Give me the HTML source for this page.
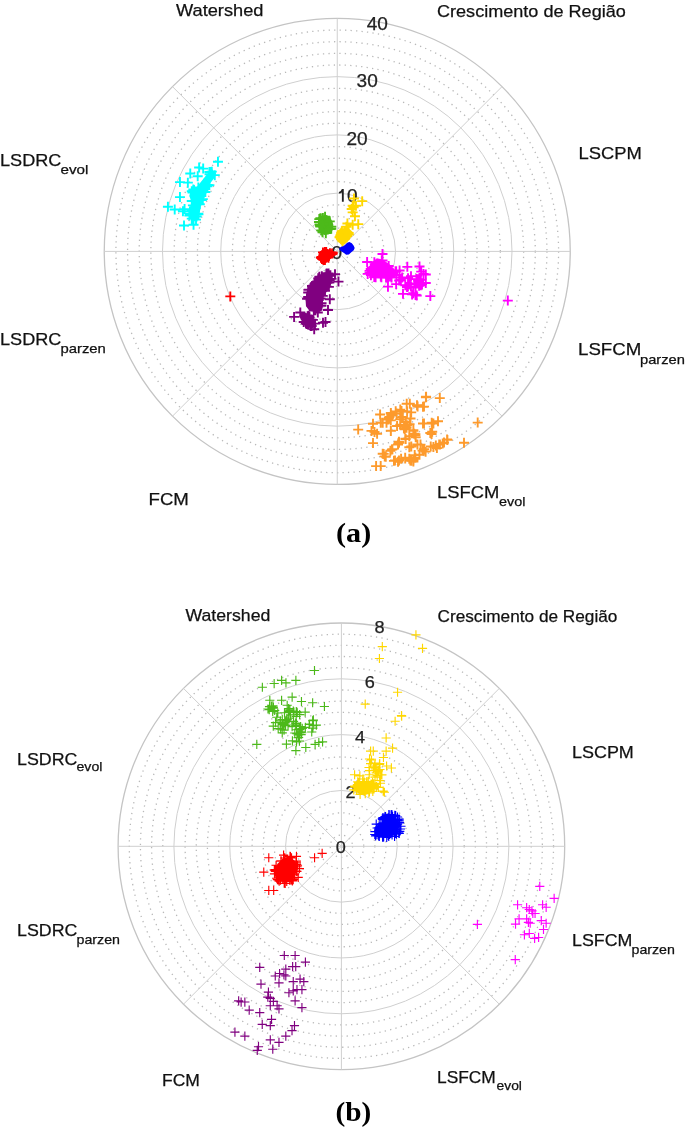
<!DOCTYPE html>
<html><head><meta charset="utf-8"><style>
html,body{margin:0;padding:0;background:#fff;width:685px;height:1127px;overflow:hidden}
svg{display:block;will-change:transform}
text{font-family:"Liberation Sans",sans-serif;fill:#111;stroke:#111;stroke-width:0.25px}
.tk{text-anchor:middle;fill:#222;stroke:#222}
.mj{fill:none;stroke:#cfcfcf;stroke-width:1}
.mn{fill:none;stroke:#b9b9b9;stroke-width:1.3;stroke-dasharray:1.3 4.2}
.ol{fill:none;stroke:#c4c4c4;stroke-width:1.3}
.cap{font-family:"Liberation Serif",serif;font-weight:bold;fill:#000;stroke:none}
</style></head><body>
<svg width="685" height="1127" viewBox="0 0 685 1127">
<g><circle cx="337.25" cy="251.4" r="11.65" class="mn"/>
<circle cx="337.25" cy="251.4" r="23.3" class="mn"/>
<circle cx="337.25" cy="251.4" r="34.95" class="mn"/>
<circle cx="337.25" cy="251.4" r="46.6" class="mn"/>
<circle cx="337.25" cy="251.4" r="69.9" class="mn"/>
<circle cx="337.25" cy="251.4" r="81.55" class="mn"/>
<circle cx="337.25" cy="251.4" r="93.2" class="mn"/>
<circle cx="337.25" cy="251.4" r="104.85" class="mn"/>
<circle cx="337.25" cy="251.4" r="128.15" class="mn"/>
<circle cx="337.25" cy="251.4" r="139.8" class="mn"/>
<circle cx="337.25" cy="251.4" r="151.45" class="mn"/>
<circle cx="337.25" cy="251.4" r="163.1" class="mn"/>
<circle cx="337.25" cy="251.4" r="186.4" class="mn"/>
<circle cx="337.25" cy="251.4" r="198.05" class="mn"/>
<circle cx="337.25" cy="251.4" r="209.7" class="mn"/>
<circle cx="337.25" cy="251.4" r="221.35" class="mn"/>
<circle cx="337.25" cy="251.4" r="58.25" class="mj"/>
<circle cx="337.25" cy="251.4" r="116.5" class="mj"/>
<circle cx="337.25" cy="251.4" r="174.75" class="mj"/>
<circle cx="337.25" cy="251.4" r="233" class="ol"/>
<line x1="337.25" y1="251.4" x2="570.25" y2="251.4" class="mj"/>
<line x1="337.25" y1="251.4" x2="502.01" y2="86.64" class="mj"/>
<line x1="337.25" y1="251.4" x2="337.25" y2="18.4" class="mj"/>
<line x1="337.25" y1="251.4" x2="172.49" y2="86.64" class="mj"/>
<line x1="337.25" y1="251.4" x2="104.25" y2="251.4" class="mj"/>
<line x1="337.25" y1="251.4" x2="172.49" y2="416.16" class="mj"/>
<line x1="337.25" y1="251.4" x2="337.25" y2="484.4" class="mj"/>
<line x1="337.25" y1="251.4" x2="502.01" y2="416.16" class="mj"/></g>
<g><circle cx="341.4" cy="846.3" r="11.17" class="mn"/>
<circle cx="341.4" cy="846.3" r="22.33" class="mn"/>
<circle cx="341.4" cy="846.3" r="33.5" class="mn"/>
<circle cx="341.4" cy="846.3" r="44.66" class="mn"/>
<circle cx="341.4" cy="846.3" r="66.99" class="mn"/>
<circle cx="341.4" cy="846.3" r="78.16" class="mn"/>
<circle cx="341.4" cy="846.3" r="89.32" class="mn"/>
<circle cx="341.4" cy="846.3" r="100.49" class="mn"/>
<circle cx="341.4" cy="846.3" r="122.82" class="mn"/>
<circle cx="341.4" cy="846.3" r="133.98" class="mn"/>
<circle cx="341.4" cy="846.3" r="145.15" class="mn"/>
<circle cx="341.4" cy="846.3" r="156.31" class="mn"/>
<circle cx="341.4" cy="846.3" r="178.64" class="mn"/>
<circle cx="341.4" cy="846.3" r="189.81" class="mn"/>
<circle cx="341.4" cy="846.3" r="200.97" class="mn"/>
<circle cx="341.4" cy="846.3" r="212.14" class="mn"/>
<circle cx="341.4" cy="846.3" r="55.83" class="mj"/>
<circle cx="341.4" cy="846.3" r="111.65" class="mj"/>
<circle cx="341.4" cy="846.3" r="167.48" class="mj"/>
<circle cx="341.4" cy="846.3" r="223.3" class="ol"/>
<line x1="341.4" y1="846.3" x2="564.7" y2="846.3" class="mj"/>
<line x1="341.4" y1="846.3" x2="499.3" y2="688.4" class="mj"/>
<line x1="341.4" y1="846.3" x2="341.4" y2="623" class="mj"/>
<line x1="341.4" y1="846.3" x2="183.5" y2="688.4" class="mj"/>
<line x1="341.4" y1="846.3" x2="118.1" y2="846.3" class="mj"/>
<line x1="341.4" y1="846.3" x2="183.5" y2="1004.2" class="mj"/>
<line x1="341.4" y1="846.3" x2="341.4" y2="1069.6" class="mj"/>
<line x1="341.4" y1="846.3" x2="499.3" y2="1004.2" class="mj"/></g>
<g><text x="336.85" y="259.3" class="tk" textLength="10.6" lengthAdjust="spacingAndGlyphs" style="font-size:17.6px">0</text>
<text x="352.3" y="201.93" class="tk" textLength="10.6" lengthAdjust="spacingAndGlyphs" style="font-size:17.6px">0</text>
<path d="M341.9 189.1H343.75V201.8H341.9V192.4Q340.6 193.4 338.9 193.5V191.9Q341.1 191.5 341.9 189.1Z" fill="#222"/>
<text x="357.08" y="144.57" class="tk" textLength="21.2" lengthAdjust="spacingAndGlyphs" style="font-size:17.6px">20</text>
<text x="367.2" y="87.2" class="tk" textLength="21.2" lengthAdjust="spacingAndGlyphs" style="font-size:17.6px">30</text>
<text x="377.31" y="29.84" class="tk" textLength="21.2" lengthAdjust="spacingAndGlyphs" style="font-size:17.6px">40</text></g>
<g><text x="340.8" y="853.3" class="tk" textLength="10.1" lengthAdjust="spacingAndGlyphs" style="font-size:16.8px">0</text>
<text x="350.49" y="798.32" class="tk" textLength="10.1" lengthAdjust="spacingAndGlyphs" style="font-size:16.8px">2</text>
<text x="360.19" y="743.35" class="tk" textLength="10.1" lengthAdjust="spacingAndGlyphs" style="font-size:16.8px">4</text>
<text x="369.88" y="688.37" class="tk" textLength="10.1" lengthAdjust="spacingAndGlyphs" style="font-size:16.8px">6</text>
<text x="379.58" y="633.39" class="tk" textLength="10.1" lengthAdjust="spacingAndGlyphs" style="font-size:16.8px">8</text></g>
<g><path d="M339.32 248.14L339.49 249.85L341.17 251.26L343.96 252.94L343.99 252.97L346.1 254.69L348.87 254.51L351.3 252.28L351.31 252.27L353.75 250.32L354.68 248L353.74 245.65L351.81 243.24L349.47 242.12L347.16 242.77L344.71 245.21L344.69 245.23L344.67 245.25L344.64 245.26L344.62 245.28L341.15 246.76L339.32 248.14Z" fill="#0000ff"/>
<path d="" stroke="#0000ff" stroke-width="1.9" fill="none"/>
<path d="M375.4 826.23L374.36 830.39L375.37 833.4L378.57 835.54L386.36 835.54L394.41 834.81L398.19 832.65L398.78 828.48L398.87 828.08L400.13 823.68L397.81 819.62L393.97 816.42L388.4 815.18L384.84 816.71L382.88 821.93L382.76 822.2L382.62 822.46L382.45 822.71L382.26 822.93L382.04 823.14L381.81 823.32L381.56 823.48L381.29 823.62L375.4 826.23Z" fill="#0000ff"/>
<path d="M390.22 815.37h9.2M394.82 810.77v9.2M378.98 819.24h9.2M383.58 814.64v9.2M378.52 837.08h9.2M383.12 832.48v9.2M377.98 837.17h9.2M382.58 832.57v9.2M372.41 834.69h9.2M377.01 830.09v9.2M377.94 836.21h9.2M382.54 831.61v9.2M394.67 833.48h9.2M399.27 828.88v9.2M393.18 819.75h9.2M397.78 815.15v9.2M382.12 837.48h9.2M386.72 832.88v9.2M377.68 818.89h9.2M382.28 814.29v9.2M380.26 816.73h9.2M384.86 812.13v9.2M384.45 815.39h9.2M389.05 810.79v9.2M380.97 816.8h9.2M385.57 812.2v9.2M378.45 817.61h9.2M383.05 813.01v9.2M384.24 814.48h9.2M388.84 809.88v9.2M394.14 832.91h9.2M398.74 828.31v9.2M394.46 833.4h9.2M399.06 828.8v9.2M370.16 834.46h9.2M374.76 829.86v9.2M380.78 816.53h9.2M385.38 811.93v9.2M387.92 816.57h9.2M392.52 811.97v9.2M384.64 814.74h9.2M389.24 810.14v9.2M391.06 815.67h9.2M395.66 811.07v9.2M374.73 836.43h9.2M379.33 831.83v9.2M396.34 826.26h9.2M400.94 821.66v9.2M395.15 831.35h9.2M399.75 826.75v9.2M391.89 834.18h9.2M396.49 829.58v9.2M395.8 828.99h9.2M400.4 824.39v9.2M379.06 836.95h9.2M383.66 832.35v9.2M389.98 836.31h9.2M394.58 831.71v9.2M392.91 817.01h9.2M397.51 812.41v9.2M391.29 833.52h9.2M395.89 828.92v9.2M375.27 824.03h9.2M379.87 819.43v9.2M370.99 835.83h9.2M375.59 831.23v9.2M379.42 818.94h9.2M384.02 814.34v9.2M374.02 835.94h9.2M378.62 831.34v9.2M378.12 819.61h9.2M382.72 815.01v9.2M380.4 816.88h9.2M385 812.28v9.2M378.28 817.7h9.2M382.88 813.1v9.2M387.48 814.91h9.2M392.08 810.31v9.2M371.63 824.05h9.2M376.23 819.45v9.2M386.51 815.28h9.2M391.11 810.68v9.2M394.59 819.08h9.2M399.19 814.48v9.2M394.57 820.9h9.2M399.17 816.3v9.2M386.62 814.68h9.2M391.22 810.08v9.2M384.15 836.47h9.2M388.75 831.87v9.2M385.02 823.81h9.2M389.62 819.21v9.2M383.42 817.83h9.2M388.02 813.23v9.2M375.46 824.45h9.2M380.06 819.85v9.2M388.05 823.76h9.2M392.65 819.16v9.2M382.97 830.13h9.2M387.57 825.53v9.2M389.94 827.18h9.2M394.54 822.58v9.2M386.71 827.82h9.2M391.31 823.22v9.2M394.77 822.57h9.2M399.37 817.97v9.2M389.34 822.69h9.2M393.94 818.09v9.2M384.5 828.63h9.2M389.1 824.03v9.2M381.98 829.8h9.2M386.58 825.2v9.2M384.98 824.29h9.2M389.58 819.69v9.2M386.31 818.89h9.2M390.91 814.29v9.2M390.78 819.16h9.2M395.38 814.56v9.2M384.52 831.89h9.2M389.12 827.29v9.2M378.29 822.71h9.2M382.89 818.11v9.2M389.8 826.36h9.2M394.4 821.76v9.2M389.96 829.58h9.2M394.56 824.98v9.2M391.11 820.03h9.2M395.71 815.43v9.2M383.82 833.89h9.2M388.42 829.29v9.2M385.03 834.43h9.2M389.63 829.83v9.2M374.07 835.03h9.2M378.67 830.43v9.2M370.37 831.66h9.2M374.97 827.06v9.2M387.47 835.01h9.2M392.07 830.41v9.2M383.64 835.3h9.2M388.24 830.7v9.2M389.06 822.23h9.2M393.66 817.63v9.2M394.87 822.86h9.2M399.47 818.26v9.2M381.77 819.19h9.2M386.37 814.59v9.2M383.39 818.64h9.2M387.99 814.04v9.2M383.77 831.73h9.2M388.37 827.13v9.2M392.97 824.24h9.2M397.57 819.64v9.2M378.59 833.35h9.2M383.19 828.75v9.2M390.73 833.41h9.2M395.33 828.81v9.2M387.48 823.58h9.2M392.08 818.98v9.2M387.62 832.08h9.2M392.22 827.48v9.2M386.24 820.04h9.2M390.84 815.44v9.2M377.37 823.52h9.2M381.97 818.92v9.2M389.64 826.52h9.2M394.24 821.92v9.2M383.93 832.01h9.2M388.53 827.41v9.2M372.56 828.03h9.2M377.16 823.43v9.2" stroke="#0000ff" stroke-width="1.15" fill="none"/>
<path d="M319 217.05L318.4 218.65L317.97 222.09L318.18 226.41L319.47 230.71L321.58 233.66L324.5 234.91L328.3 234.49L331.23 232.81L332.92 229.44L333.35 224.74L332.06 220.89L329.92 217.04L326.58 214.95L321.91 215.8L319 217.05Z" fill="#4cb91a"/>
<path d="M317.9 218.09h10M322.9 213.09v10M313.98 221.98h10M318.98 216.98v10M324.75 221.34h10M329.75 216.34v10M317.46 231.5h10M322.46 226.5v10M326.3 226.6h10M331.3 221.6v10M314.97 225.48h10M319.97 220.48v10M320.82 233.17h10M325.82 228.17v10M315.82 218.51h10M320.82 213.51v10M325.39 229.09h10M330.39 224.09v10M316.21 230.37h10M321.21 225.37v10M314.31 219.08h10M319.31 214.08v10M317.58 232.23h10M322.58 227.23v10M320.04 216.76h10M325.04 211.76v10M326.24 228.71h10M331.24 223.71v10M314.63 219.1h10M319.63 214.1v10M314.51 224.54h10M319.51 219.54v10M315.4 218.32h10M320.4 213.32v10M315.26 226.46h10M320.26 221.46v10" stroke="#4cb91a" stroke-width="1.9" fill="none"/>
<path d="M309.89 670.51h9.2M314.49 665.91v9.2M257.77 687.26h9.2M262.37 682.66v9.2M269.56 683.54h9.2M274.16 678.94v9.2M277.01 680.44h9.2M281.61 675.84v9.2M281.35 682.92h9.2M285.95 678.32v9.2M291.28 680.44h9.2M295.88 675.84v9.2M265.22 700.29h9.2M269.82 695.69v9.2M277.01 700.29h9.2M281.61 695.69v9.2M287.55 697.19h9.2M292.15 692.59v9.2M296.86 701.53h9.2M301.46 696.93v9.2M308.03 702.77h9.2M312.63 698.17v9.2M319.82 706.5h9.2M324.42 701.9v9.2M282.59 705.26h9.2M287.19 700.66v9.2M268.32 705.88h9.2M272.92 701.28v9.2M263.36 708.98h9.2M267.96 704.38v9.2M252.19 744.34h9.2M256.79 739.74v9.2M301.2 747.45h9.2M305.8 742.85v9.2M291.28 750.55h9.2M295.88 745.95v9.2M310.51 744.34h9.2M315.11 739.74v9.2M314.23 742.48h9.2M318.83 737.88v9.2M317.95 741.86h9.2M322.55 737.26v9.2M300.58 712.08h9.2M305.18 707.48v9.2M311.75 725.11h9.2M316.35 720.51v9.2M308.03 720.77h9.2M312.63 716.17v9.2M291.27 725.38h9.2M295.87 720.78v9.2M291.58 716.48h9.2M296.18 711.88v9.2M295.05 714.65h9.2M299.65 710.05v9.2M288.94 721.34h9.2M293.54 716.74v9.2M282.55 719.58h9.2M287.15 714.98v9.2M296.03 726.49h9.2M300.63 721.89v9.2M296.53 734.68h9.2M301.13 730.08v9.2M281.83 744.12h9.2M286.43 739.52v9.2M279.45 730.17h9.2M284.05 725.57v9.2M291.88 741.96h9.2M296.48 737.36v9.2M272.19 717.21h9.2M276.79 712.61v9.2M287.83 740.92h9.2M292.43 736.32v9.2M295.25 729.56h9.2M299.85 724.96v9.2M291.08 723.19h9.2M295.68 718.59v9.2M292.65 712.76h9.2M297.25 708.16v9.2M308.57 725.55h9.2M313.17 720.95v9.2M284.04 718.05h9.2M288.64 713.45v9.2M277.63 732.9h9.2M282.23 728.3v9.2M273.21 713.02h9.2M277.81 708.42v9.2M285.95 714.84h9.2M290.55 710.24v9.2M294.83 741.04h9.2M299.43 736.44v9.2M300.75 727.42h9.2M305.35 722.82v9.2M280.98 725.61h9.2M285.58 721.01v9.2M280.25 721.01h9.2M284.85 716.41v9.2M268.67 726.14h9.2M273.27 721.54v9.2M291.8 723.85h9.2M296.4 719.25v9.2M276.1 729.23h9.2M280.7 724.63v9.2M287.5 726.68h9.2M292.1 722.08v9.2M283.44 725.04h9.2M288.04 720.44v9.2M291.89 729.76h9.2M296.49 725.16v9.2M268.82 707.29h9.2M273.42 702.69v9.2M264.63 709.57h9.2M269.23 704.97v9.2M268.39 708.13h9.2M272.99 703.53v9.2M268.08 711.38h9.2M272.68 706.78v9.2M270.07 710.48h9.2M274.67 705.88v9.2M266.89 706.05h9.2M271.49 701.45v9.2M264.94 706.59h9.2M269.54 701.99v9.2M277.54 723.47h9.2M282.14 718.87v9.2M273.59 728.59h9.2M278.19 723.99v9.2M270.91 722.61h9.2M275.51 718.01v9.2M278.59 724.61h9.2M283.19 720.01v9.2M277.71 719.46h9.2M282.31 714.86v9.2M281.53 720.39h9.2M286.13 715.79v9.2M275.62 722.58h9.2M280.22 717.98v9.2M275.75 720.94h9.2M280.35 716.34v9.2M280.55 722.79h9.2M285.15 718.19v9.2M283.86 711.39h9.2M288.46 706.79v9.2M288.69 711.06h9.2M293.29 706.46v9.2M284.05 708.61h9.2M288.65 704.01v9.2M289.32 712.03h9.2M293.92 707.43v9.2M285.29 710.08h9.2M289.89 705.48v9.2M279.89 712.76h9.2M284.49 708.16v9.2M284.49 712.42h9.2M289.09 707.82v9.2M291.7 711.67h9.2M296.3 707.07v9.2M290.18 732.98h9.2M294.78 728.38v9.2M297.65 728.35h9.2M302.25 723.75v9.2M296.21 731.77h9.2M300.81 727.17v9.2M297.09 732.7h9.2M301.69 728.1v9.2M293.64 734.95h9.2M298.24 730.35v9.2M292.36 733.57h9.2M296.96 728.97v9.2M293.48 737.77h9.2M298.08 733.17v9.2M294.93 728.75h9.2M299.53 724.15v9.2M295.01 734.25h9.2M299.61 729.65v9.2M293.98 737.5h9.2M298.58 732.9v9.2M304.63 724.45h9.2M309.23 719.85v9.2M308.52 720.7h9.2M313.12 716.1v9.2M307.15 732.02h9.2M311.75 727.42v9.2M304.81 724.01h9.2M309.41 719.41v9.2M308.78 719.95h9.2M313.38 715.35v9.2M308.24 728.06h9.2M312.84 723.46v9.2" stroke="#4cb91a" stroke-width="1.15" fill="none"/>
<path d="M318.97 252.86L318.01 256.3L318.97 259.75L321.96 263.13L324.74 263.68L327.21 262.16L330.19 259.19L330.22 259.16L333.32 256.76L333.33 256.75L333.35 256.74L337.7 254.32L337.7 251.76L333.96 251.3L333.94 251.29L333.91 251.29L331.41 250.49L331.38 250.47L327.81 248.89L324.85 248.41L321.98 249.85L318.97 252.86Z" fill="#ff0000"/>
<path d="M225.3 296.4h10M230.3 291.4v10M316.01 257.56h10M321.01 252.56v10M316.96 258.92h10M321.96 253.92v10M323.48 257.65h10M328.48 252.65v10M321.23 252.26h10M326.23 247.26v10M318.56 259.88h10M323.56 254.88v10M319.9 260.06h10M324.9 255.06v10M315.95 257.71h10M320.95 252.71v10M317.98 252.41h10M322.98 247.41v10M321.14 252.11h10M326.14 247.11v10M318.08 259.26h10M323.08 254.26v10M327.11 253.51h10M332.11 248.51v10M319.95 252.05h10M324.95 247.05v10M316.81 256.84h10M321.81 251.84v10M324.96 253.24h10M329.96 248.24v10" stroke="#ff0000" stroke-width="1.9" fill="none"/>
<path d="M277.58 863.67L274.78 868.15L275.34 873.73L278.71 880.47L285.36 882.68L292.04 880.46L295.42 874.83L297.68 868.03L295.45 861.32L289.9 856.88L283.27 857.99L277.58 863.67Z" fill="#ff0000"/>
<path d="M264.18 857.75h9.2M268.78 853.15v9.2M259.16 872.12h9.2M263.76 867.52v9.2M264.18 890.45h9.2M268.78 885.85v9.2M269.09 890.45h9.2M273.69 885.85v9.2M309.96 857.75h9.2M314.56 853.15v9.2M317.55 853.43h9.2M322.15 848.83v9.2M291.86 856.35h9.2M296.46 851.75v9.2M279.01 855.18h9.2M283.61 850.58v9.2M293.61 877.37h9.2M298.21 872.77v9.2M287.77 880.88h9.2M292.37 876.28v9.2M279.6 883.21h9.2M284.2 878.61v9.2M294.78 868.61h9.2M299.38 864.01v9.2M291.66 861.28h9.2M296.26 856.68v9.2M276.31 860.78h9.2M280.91 856.18v9.2M274.58 881.11h9.2M279.18 876.51v9.2M291.61 865.07h9.2M296.21 860.47v9.2M291.79 862.89h9.2M296.39 858.29v9.2M286.92 857.92h9.2M291.52 853.32v9.2M272.8 879.56h9.2M277.4 874.96v9.2M282.15 881.38h9.2M286.75 876.78v9.2M285.41 856.38h9.2M290.01 851.78v9.2M271.16 873.98h9.2M275.76 869.38v9.2M291.82 864.56h9.2M296.42 859.96v9.2M292.85 865.2h9.2M297.45 860.6v9.2M280.6 883.42h9.2M285.2 878.82v9.2M272.07 878.26h9.2M276.67 873.66v9.2M285.13 880.22h9.2M289.73 875.62v9.2M287.12 879.08h9.2M291.72 874.48v9.2M280.2 857.95h9.2M284.8 853.35v9.2M270.87 871.22h9.2M275.47 866.62v9.2M292.46 866.72h9.2M297.06 862.12v9.2M269.72 869.94h9.2M274.32 865.34v9.2M289.97 874.78h9.2M294.57 870.18v9.2M288.62 879.68h9.2M293.22 875.08v9.2M285.81 856.57h9.2M290.41 851.97v9.2M270.43 870.55h9.2M275.03 865.95v9.2M270.98 869.66h9.2M275.58 865.06v9.2M271.48 865.25h9.2M276.08 860.65v9.2M270.99 871.39h9.2M275.59 866.79v9.2M270.41 869.85h9.2M275.01 865.25v9.2M291.44 862.98h9.2M296.04 858.38v9.2M288.29 878.91h9.2M292.89 874.31v9.2M287.65 880.17h9.2M292.25 875.57v9.2M270.56 870h9.2M275.16 865.4v9.2M273.78 879.91h9.2M278.38 875.31v9.2M276.59 861.09h9.2M281.19 856.49v9.2M269.88 873.85h9.2M274.48 869.25v9.2M291.65 871.04h9.2M296.25 866.44v9.2M291.75 860.98h9.2M296.35 856.38v9.2M286.43 879.86h9.2M291.03 875.26v9.2M292.3 871.34h9.2M296.9 866.74v9.2M275.93 880.15h9.2M280.53 875.55v9.2M285.36 876.76h9.2M289.96 872.16v9.2M276.19 873.3h9.2M280.79 868.7v9.2M274.38 875.08h9.2M278.98 870.48v9.2M275.43 874.03h9.2M280.03 869.43v9.2M285.57 875.25h9.2M290.17 870.65v9.2M280.57 877.3h9.2M285.17 872.7v9.2M281.9 879.19h9.2M286.5 874.59v9.2M285.83 868.64h9.2M290.43 864.04v9.2M278.15 879.09h9.2M282.75 874.49v9.2M274.26 875.14h9.2M278.86 870.54v9.2M287.68 862.77h9.2M292.28 858.17v9.2M278.54 865.8h9.2M283.14 861.2v9.2M282.35 867.06h9.2M286.95 862.46v9.2M278.35 877.89h9.2M282.95 873.29v9.2M284.52 875.93h9.2M289.12 871.33v9.2" stroke="#ff0000" stroke-width="1.15" fill="none"/>
<path d="M322.22 272.49L318.37 276.34L307.94 288.26L306.49 292.12L305.5 299.02L305.99 306.31L309.28 310.55L318.49 312.47L321.09 310.67L323 305.9L323 298L323 297.95L323.01 297.9L323.02 297.85L323.04 297.8L324.54 294.3L324.56 294.25L324.59 294.21L324.63 294.17L328.58 289.72L330.54 285.81L332.5 279.92L332.5 275.23L328.83 272.01L322.22 272.49Z" fill="#800080"/>
<path d="M300.02 313.59L299.42 316.16L300.75 319.57L303.57 323.86L307.17 326.68L311.3 328.74L313.88 327.4L316.53 324.11L315.27 320.78L311.65 317.26L311.64 317.25L308.13 313.64L304 312.32L300.02 313.59Z" fill="#800080"/>
<path d="M333.5 281.6h10M338.5 276.6v10M330 274.3h10M335 269.3v10M324.8 299.2h10M329.8 294.2v10M323 310h10M328 305v10M289.1 316.9h10M294.1 311.9v10M295.3 312.5h10M300.3 307.5v10M318 322.7h10M323 317.7v10M320.5 322h10M325.5 317v10M312.8 312.5h10M317.8 307.5v10M309.2 329.3h10M314.2 324.3v10M319.99 290.85h10M324.99 285.85v10M323.43 274.58h10M328.43 269.58v10M324.85 275.71h10M329.85 270.71v10M308.94 310.45h10M313.94 305.45v10M315.58 298.43h10M320.58 293.43v10M311.17 282.42h10M316.17 277.42v10M303.18 292.47h10M308.18 287.47v10M316.12 305.7h10M321.12 300.7v10M303.4 289.92h10M308.4 284.92v10M325.39 275.26h10M330.39 270.26v10M308.12 285.59h10M313.12 280.59v10M309.46 284.14h10M314.46 279.14v10M309.93 283.2h10M314.93 278.2v10M326.5 278.83h10M331.5 273.83v10M303.78 289.74h10M308.78 284.74v10M324.68 280.56h10M329.68 275.56v10M321.63 273.61h10M326.63 268.61v10M316.89 295.91h10M321.89 290.91v10M323.57 273.52h10M328.57 268.52v10M321.27 274.24h10M326.27 269.24v10M303.16 296.95h10M308.16 291.95v10M307.02 285.94h10M312.02 280.94v10M313.25 278.33h10M318.25 273.33v10M316.55 303.1h10M321.55 298.1v10M317.76 295.9h10M322.76 290.9v10M302.07 298.68h10M307.07 293.68v10M310.01 309.47h10M315.01 304.47v10M310.32 310.3h10M315.32 305.3v10M314.38 278.31h10M319.38 273.31v10M316.83 276.35h10M321.83 271.35v10M324.37 282.58h10M329.37 277.58v10M323.88 286.83h10M328.88 281.83v10M316.45 305.45h10M321.45 300.45v10M314.34 276.8h10M319.34 271.8v10M302.63 316.26h10M307.63 311.26v10M300.91 323.49h10M305.91 318.49v10M307.9 319.87h10M312.9 314.87v10M304.47 317.46h10M309.47 312.46v10M304.28 317.06h10M309.28 312.06v10M303.47 316.01h10M308.47 311.01v10M305.75 326.12h10M310.75 321.12v10M306.49 319.62h10M311.49 314.62v10M309.98 323.66h10M314.98 318.66v10M301.31 323.2h10M306.31 318.2v10M306 319.7h10M311 314.7v10M303.27 324.66h10M308.27 319.66v10M303.63 315.79h10M308.63 310.79v10M306.69 326.05h10M311.69 321.05v10M298.71 321.99h10M303.71 316.99v10M301.9 323.99h10M306.9 318.99v10" stroke="#800080" stroke-width="1.9" fill="none"/>
<path d="M279.71 955.51h9.2M284.31 950.91v9.2M290.51 955.51h9.2M295.11 950.91v9.2M300.81 962.09h9.2M305.41 957.49v9.2M255.14 967.3h9.2M259.74 962.7v9.2M281.2 969.16h9.2M285.8 964.56v9.2M288.03 966.68h9.2M292.63 962.08v9.2M291.13 966.68h9.2M295.73 962.08v9.2M270.66 975.99h9.2M275.26 971.39v9.2M275 973.5h9.2M279.6 968.9v9.2M279.34 974.74h9.2M283.94 970.14v9.2M281.2 975.99h9.2M285.8 971.39v9.2M274.38 982.81h9.2M278.98 978.21v9.2M256.39 984.05h9.2M260.99 979.45v9.2M288.65 981.57h9.2M293.25 976.97v9.2M295.47 979.09h9.2M300.07 974.49v9.2M299.2 981.57h9.2M303.8 976.97v9.2M288.65 990.88h9.2M293.25 986.28v9.2M284.31 992.74h9.2M288.91 988.14v9.2M292.37 989.64h9.2M296.97 985.04v9.2M297.33 989.64h9.2M301.93 985.04v9.2M290.51 1000.8h9.2M295.11 996.2v9.2M297.33 1007.63h9.2M301.93 1003.03v9.2M263.83 992.12h9.2M268.43 987.52v9.2M263.21 997.08h9.2M267.81 992.48v9.2M265.69 998.32h9.2M270.29 993.72v9.2M268.79 1001.42h9.2M273.39 996.82v9.2M265.69 1005.77h9.2M270.29 1001.17v9.2M272.52 1005.77h9.2M277.12 1001.17v9.2M274.38 1008.87h9.2M278.98 1004.27v9.2M234.05 1000.8h9.2M238.65 996.2v9.2M236.53 1002.04h9.2M241.13 997.44v9.2M240.25 1002.04h9.2M244.85 997.44v9.2M244.6 1010.11h9.2M249.2 1005.51v9.2M255.14 1012.59h9.2M259.74 1007.99v9.2M266.93 1019.42h9.2M271.53 1014.82v9.2M265.69 1025.62h9.2M270.29 1021.02v9.2M257.63 1024.38h9.2M262.23 1019.78v9.2M289.89 1025.62h9.2M294.49 1021.02v9.2M287.41 1030.58h9.2M292.01 1025.98v9.2M281.2 1036.17h9.2M285.8 1031.57v9.2M230.33 1032.07h9.2M234.93 1027.47v9.2M240.25 1036.17h9.2M244.85 1031.57v9.2M265.69 1039.89h9.2M270.29 1035.29v9.2M274.38 1042.37h9.2M278.98 1037.77v9.2M253.9 1046.72h9.2M258.5 1042.12v9.2M252.66 1050.44h9.2M257.26 1045.84v9.2M268.17 1049.2h9.2M272.77 1044.6v9.2" stroke="#800080" stroke-width="1.15" fill="none"/>
<path d="M211.93 169.04L207.78 173.19L203.41 178.65L199.03 184.13L195.75 188.5L195.73 188.52L195.71 188.54L195.69 188.56L195.67 188.58L190.3 191.8L189.26 195.96L191.41 201.35L191.42 201.37L191.43 201.4L191.43 201.43L191.43 201.45L191.43 201.48L191.43 201.51L190.33 208.08L190.33 208.1L190.32 208.12L188.17 214.58L190.28 218.79L193.87 221.87L197.99 218.26L199.6 213.43L200.69 206.88L200.7 206.85L200.71 206.82L203.99 199.16L206.18 193.68L206.19 193.66L208.92 188.21L210.55 182.76L210.56 182.73L210.57 182.71L210.59 182.68L210.61 182.66L214.94 177.24L215.98 173.08L211.93 169.04Z" fill="#00ffff"/>
<path d="M212.96 161.82h10M217.96 156.82v10M198.18 168.61h10M203.18 163.61v10M194.12 167.52h10M199.12 162.52v10M185.26 173.54h10M190.26 168.54v10M192.7 176.28h10M197.7 171.28v10M174.96 182.08h10M179.96 177.08v10M182.85 182.63h10M187.85 177.63v10M174.96 197.08h10M179.96 192.08v10M162.92 206.72h10M167.92 201.72v10M169.71 209.45h10M174.71 204.45v10M177.92 211.31h10M182.92 206.31v10M179.56 209.12h10M184.56 204.12v10M179.01 225.55h10M184.01 220.55v10M188.54 224.78h10M193.54 219.78v10M188.32 189.42h10M193.32 184.42v10M204.37 185.08h10M209.37 180.08v10M187.6 192.43h10M192.6 187.43v10M184.69 213.79h10M189.69 208.79v10M200.35 191.98h10M205.35 186.98v10M204.48 172.04h10M209.48 167.04v10M186.3 211.11h10M191.3 206.11v10M206.77 171.64h10M211.77 166.64v10M197.82 199.12h10M202.82 194.12v10M209.79 175.13h10M214.79 170.13v10M204.54 174.27h10M209.54 169.27v10M191 219.66h10M196 214.66v10M187.9 205.34h10M192.9 200.34v10M184.9 211.39h10M189.9 206.39v10M189 189.88h10M194 184.88v10M186.76 218.64h10M191.76 213.64v10M188.56 190.62h10M193.56 185.62v10M184.4 215.61h10M189.4 210.61v10M205.12 171.96h10M210.12 166.96v10M191.59 216.53h10M196.59 211.53v10M193.35 187.5h10M198.35 182.5v10M202.58 185.05h10M207.58 180.05v10M186.74 200.99h10M191.74 195.99v10M196.79 200.13h10M201.79 195.13v10M186.96 209.75h10M191.96 204.75v10M194.77 204.28h10M199.77 199.28v10M193.44 214.36h10M198.44 209.36v10M202.43 186.33h10M207.43 181.33v10M193.21 213.77h10M198.21 208.77v10M186.79 191.22h10M191.79 186.22v10M186.84 209.24h10M191.84 204.24v10" stroke="#00ffff" stroke-width="1.9" fill="none"/>
<path d="M370.25 263.82L369.14 270.49L370.23 275.96L376.86 278.17L387.03 278.73L394.87 277.05L399.12 272.81L394.84 269.6L394.81 269.57L389.14 263.9L382.38 259.39L376.88 258.29L370.25 263.82Z" fill="#ff00ff"/>
<path d="M377.5 253.99h10M382.5 248.99v10M362.12 261.96h10M367.12 256.96v10M362.69 273.91h10M367.69 268.91v10M382.96 286.67h10M387.96 281.67v10M402.32 266.85h10M407.32 261.85v10M414.5 266.51h10M419.5 261.51v10M418.49 273.91h10M423.49 268.91v10M420.77 283.02h10M425.77 278.02v10M397.99 293.84h10M402.99 288.84v10M408.24 293.27h10M413.24 288.27v10M410.52 294.98h10M415.52 289.98v10M394.58 270.5h10M399.58 265.5v10M391.16 284.16h10M396.16 279.16v10M400.27 285.3h10M405.27 280.3v10M502.8 300.6h10M507.8 295.6v10M425.32 296.12h10M430.32 291.12v10M406 276.2h10M411 271.2v10M416.2 271.6h10M421.2 266.6v10M420.8 274.5h10M425.8 269.5v10M410.5 287.6h10M415.5 282.6v10M407.1 294.4h10M412.1 289.4v10M411.7 295.5h10M416.7 290.5v10M365.93 275.15h10M370.93 270.15v10M365.82 269.52h10M370.82 264.52v10M381.04 277.41h10M386.04 272.41v10M391.44 275.04h10M396.44 270.04v10M386.57 277.48h10M391.57 272.48v10M364.56 270.88h10M369.56 265.88v10M376.77 260.34h10M381.77 255.34v10M370.6 277.28h10M375.6 272.28v10M369.37 262.29h10M374.37 257.29v10M383.14 277.11h10M388.14 272.11v10M366.75 267.91h10M371.75 262.91v10M375.81 276.47h10M380.81 271.47v10M365.11 272.88h10M370.11 267.88v10M377.49 260.45h10M382.49 255.45v10M391.17 271.3h10M396.17 266.3v10M381.43 277.22h10M386.43 272.22v10M365.72 268.85h10M370.72 263.85v10M369.26 276.97h10M374.26 271.97v10M385.08 276.48h10M390.08 271.48v10M390.53 271.15h10M395.53 266.15v10M376.4 277.31h10M381.4 272.31v10M383.66 265.95h10M388.66 260.95v10M395.76 280.26h10M400.76 275.26v10M409.5 283.5h10M414.5 278.5v10M404.84 284.04h10M409.84 279.04v10M395.87 280.06h10M400.87 275.06v10M394.15 280.56h10M399.15 275.56v10M403.02 278.22h10M408.02 273.22v10M402.97 286.58h10M407.97 281.58v10M402.01 287.04h10M407.01 282.04v10M405.94 286.41h10M410.94 281.41v10M415.91 285.37h10M420.91 280.37v10M397.17 277.46h10M402.17 272.46v10M417.01 283.95h10M422.01 278.95v10M414.1 281.8h10M419.1 276.8v10M411.38 279.11h10M416.38 274.11v10M415.84 279.89h10M420.84 274.89v10M413.06 280.89h10M418.06 275.89v10M413.47 282.75h10M418.47 277.75v10M413.28 279.29h10M418.28 274.29v10M414.07 285.87h10M419.07 280.87v10M414.29 279.76h10M419.29 274.76v10" stroke="#ff00ff" stroke-width="1.9" fill="none"/>
<path d="M535.16 886.42h9.2M539.76 881.82v9.2M549.54 898.4h9.2M554.14 893.8v9.2M512.97 904.79h9.2M517.57 900.19v9.2M538 904.79h9.2M542.6 900.19v9.2M541.55 907.28h9.2M546.15 902.68v9.2M522.03 907.72h9.2M526.63 903.12v9.2M524.69 909.5h9.2M529.29 904.9v9.2M527.35 910.83h9.2M531.95 906.23v9.2M528.24 913.49h9.2M532.84 908.89v9.2M530.46 913.49h9.2M535.06 908.89v9.2M514.48 918.82h9.2M519.08 914.22v9.2M510.93 924.14h9.2M515.53 919.54v9.2M522.03 918.82h9.2M526.63 914.22v9.2M523.8 922.37h9.2M528.4 917.77v9.2M525.58 923.25h9.2M530.18 918.65v9.2M536.67 920.59h9.2M541.27 915.99v9.2M541.55 923.25h9.2M546.15 918.65v9.2M538.89 929.47h9.2M543.49 924.87v9.2M519.81 934.79h9.2M524.41 930.19v9.2M524.69 933.46h9.2M529.29 928.86v9.2M530.02 938.34h9.2M534.62 933.74v9.2M534.01 937.46h9.2M538.61 932.86v9.2M510.67 959.64h9.2M515.27 955.04v9.2M472.8 924.3h9.2M477.4 919.7v9.2" stroke="#ff00ff" stroke-width="1.15" fill="none"/>
<path d="M353.2 429.6h10M358.2 424.6v10M368 423.7h10M373 418.7v10M366.5 430.9h10M371.5 425.9v10M369.5 431.9h10M374.5 426.9v10M372.1 433.7h10M377.1 428.7v10M368 443.1h10M373 438.1v10M375.1 414.5h10M380.1 409.5v10M377.7 422.7h10M382.7 417.7v10M375.7 422.7h10M380.7 417.7v10M385.9 413h10M390.9 408v10M385.9 430.9h10M390.9 425.9v10M378.7 453.9h10M383.7 448.9v10M387.4 449.3h10M392.4 444.3v10M385.4 450.8h10M390.4 445.8v10M379.7 456.4h10M384.7 451.4v10M371.1 466.1h10M376.1 461.1v10M375.7 466.1h10M380.7 461.1v10M393.5 443.1h10M398.5 438.1v10M400.7 439h10M405.7 434v10M404.3 447.2h10M409.3 442.2v10M390 460.5h10M395 455.5v10M394 460.5h10M399 455.5v10M400.2 458.5h10M405.2 453.5v10M405.3 460.5h10M410.3 455.5v10M408.4 461.5h10M413.4 456.5v10M401.7 403.8h10M406.7 398.8v10M404.8 403.8h10M409.8 398.8v10M412 405.3h10M417 400.3v10M399.2 425.8h10M404.2 420.8v10M408.4 430.9h10M413.4 425.9v10M410.4 435h10M415.4 430v10M421.1 396.7h10M426.1 391.7v10M434.8 398.1h10M439.8 393.1v10M472.7 422.6h10M477.7 417.6v10M459 442.8h10M464 437.8v10M412.6 406.6h10M417.6 401.6v10M419 406.6h10M424 401.6v10M428.4 423.5h10M433.4 418.5v10M433 421.2h10M438 416.2v10M427.2 431.7h10M432.2 426.7v10M426.6 434h10M431.6 429v10M442.4 439.9h10M447.4 434.9v10M437.7 443.4h10M442.7 438.4v10M434.2 444.6h10M439.2 439.6v10M428.4 446.9h10M433.4 441.9v10M431.9 448.1h10M436.9 443.1v10M419 449.2h10M424 444.2v10M415.5 444.6h10M420.5 439.6v10M409.7 455.1h10M414.7 450.1v10M408.5 459.7h10M413.5 454.7v10M419 423.5h10M424 418.5v10M420.9 397.2h10M425.9 392.2v10M418 406.7h10M423 401.7v10M385.8 413.2h10M390.8 408.2v10M395.3 409.6h10M400.3 404.6v10M381.5 422.7h10M386.5 417.7v10M385.8 430.8h10M390.8 425.8v10M399.7 429.3h10M404.7 424.3v10M409.2 433.7h10M414.2 428.7v10M418 423.5h10M423 418.5v10M400.4 438.8h10M405.4 433.8v10M393.9 441.7h10M398.9 436.7v10M410.7 437.3h10M415.7 432.3v10M426.7 422.7h10M431.7 417.7v10M425.3 433h10M430.3 428v10M377.7 453.69h10M382.7 448.69v10M380.77 456.75h10M385.77 451.75v10M386.9 449.6h10M391.9 444.6v10M388.94 460.84h10M393.94 455.84v10M393.03 461.86h10M398.03 456.86v10M396.09 458.8h10M401.09 453.8v10M400.18 457.77h10M405.18 452.77v10M404.27 458.8h10M409.27 453.8v10M406.31 460.84h10M411.31 455.84v10M410.4 457.77h10M415.4 452.77v10M414.49 454.71h10M419.49 449.71v10M417.55 450.62h10M422.55 445.62v10M420.62 451.64h10M425.62 446.64v10M425.73 446.53h10M430.73 441.53v10M430.84 445.51h10M435.84 440.51v10M434.93 444.49h10M439.93 439.49v10M439.01 442.45h10M444.01 437.45v10M442.08 439.38h10M447.08 434.38v10M412.45 444.49h10M417.45 439.49v10M406.31 446.53h10M411.31 441.53v10M404.27 436.31h10M409.27 431.31v10M394.05 442.45h10M399.05 437.45v10M393.03 444.49h10M398.03 439.49v10M410.4 434.27h10M415.4 429.27v10M408.36 430.18h10M413.36 425.18v10M397.85 416.85h10M402.85 411.85v10M383.31 419.56h10M388.31 414.56v10M400.76 421.94h10M405.76 416.94v10M384.41 416.97h10M389.41 411.97v10M405.51 418.5h10M410.51 413.5v10M406.19 412.33h10M411.19 407.33v10M390.69 411.36h10M395.69 406.36v10M399.23 428.37h10M404.23 423.37v10M401.91 425.24h10M406.91 420.24v10M395.32 424.65h10M400.32 419.65v10M386.34 415.14h10M391.34 410.14v10M404.58 424.23h10M409.58 419.23v10M396.54 410.88h10M401.54 405.88v10M391.6 413.43h10M396.6 408.43v10M392.06 425.98h10M397.06 420.98v10M395.17 419.33h10M400.17 414.33v10M383.85 417.93h10M388.85 412.93v10M402.11 411.58h10M407.11 406.58v10M401.53 427.77h10M406.53 422.77v10M385.77 420.34h10M390.77 415.34v10M398.92 428.31h10M403.92 423.31v10M396.48 417.37h10M401.48 412.37v10" stroke="#fd9a2c" stroke-width="1.9" fill="none"/>
<path d="M335.77 234.13L334.83 236.96L336.74 239.82L339.21 242.79L342.06 245.16L344.84 244.24L349.76 239.32L351.72 235.89L352.67 232.09L349.85 229.27L345.96 228.3L341.09 228.3L338.22 230.21L335.77 234.13Z" fill="#ffd700"/>
<path d="M348.98 198.54h10M353.98 193.54v10M357.19 201.17h10M362.19 196.17v10M347.66 205.77h10M352.66 200.77v10M346.68 209.05h10M351.68 204.05v10M348.65 207.41h10M353.65 202.41v10M350.95 205.77h10M355.95 200.77v10M349.96 216.28h10M354.96 211.28v10M347.66 212.34h10M352.66 207.34v10M342.41 223.5h10M347.41 218.5v10M347.66 224.82h10M352.66 219.82v10M353.25 224.16h10M358.25 219.16v10M341.42 226.79h10M346.42 221.79v10M343.75 234.54h10M348.75 229.54v10M343.65 232.86h10M348.65 227.86v10M334.55 237.34h10M339.55 232.34v10M336.85 231.3h10M341.85 226.3v10M337.46 241.28h10M342.46 236.28v10M341.87 235.92h10M346.87 230.92v10M342.1 235.93h10M347.1 230.93v10M336.07 239.19h10M341.07 234.19v10M336.23 232.68h10M341.23 227.68v10M339.67 231.88h10M344.67 226.88v10M334.6 237.31h10M339.6 232.31v10M343.29 233.21h10M348.29 228.21v10" stroke="#ffd700" stroke-width="1.9" fill="none"/>
<path d="M353.93 786.64L353.58 789.46L355.93 791.81L360.42 794.5L366.65 794.5L371.94 791.85L374.42 787.73L373.66 783.94L369.58 781.5L362.24 781.5L356.86 783.29L353.93 786.64Z" fill="#ffd700"/>
<path d="M411.34 634.85h9.2M415.94 630.25v9.2M417.91 648.39h9.2M422.51 643.79v9.2M377.71 646.68h9.2M382.31 642.08v9.2M374.82 658.5h9.2M379.42 653.9v9.2M392.95 692.27h9.2M397.55 687.67v9.2M360.63 704.09h9.2M365.23 699.49v9.2M396.89 715.66h9.2M401.49 711.06v9.2M397.06 716.12h9.2M401.66 711.52v9.2M390.52 721.26h9.2M395.12 716.66v9.2M381.53 737.96h9.2M386.13 733.36v9.2M387.95 748.12h9.2M392.55 743.52v9.2M381.53 751.15h9.2M386.13 746.55v9.2M366 751.15h9.2M370.6 746.55v9.2M368.68 751.15h9.2M373.28 746.55v9.2M378.85 757.46h9.2M383.45 752.86v9.2M386.79 767.97h9.2M391.39 763.37v9.2M366 763.65h9.2M370.6 759.05v9.2M370.44 763.07h9.2M375.04 758.47v9.2M375.11 763.65h9.2M379.71 759.05v9.2M371.6 767.74h9.2M376.2 763.14v9.2M373.94 770.07h9.2M378.54 765.47v9.2M376.28 774.74h9.2M380.88 770.14v9.2M375.11 780.58h9.2M379.71 775.98v9.2M370.44 777.08h9.2M375.04 772.48v9.2M364.6 774.74h9.2M369.2 770.14v9.2M350 774.74h9.2M354.6 770.14v9.2M355.25 775.91h9.2M359.85 771.31v9.2M378.61 791.09h9.2M383.21 786.49v9.2M379.78 792.26h9.2M384.38 787.66v9.2M364.89 770.64h9.2M369.49 766.04v9.2M374.88 764.41h9.2M379.48 759.81v9.2M364.42 767.54h9.2M369.02 762.94v9.2M372.55 775.69h9.2M377.15 771.09v9.2M364.93 758.95h9.2M369.53 754.35v9.2M373.58 771.32h9.2M378.18 766.72v9.2M377.3 774.88h9.2M381.9 770.28v9.2M369.94 766.08h9.2M374.54 761.48v9.2M381.97 765.98h9.2M386.57 761.38v9.2M366.87 760.03h9.2M371.47 755.43v9.2M370.83 769.02h9.2M375.43 764.42v9.2M368.85 767.56h9.2M373.45 762.96v9.2M371.63 772.85h9.2M376.23 768.25v9.2M375.34 769.47h9.2M379.94 764.87v9.2M352.73 784.93h9.2M357.33 780.33v9.2M359.73 782.08h9.2M364.33 777.48v9.2M367.2 784.26h9.2M371.8 779.66v9.2M359.75 791.21h9.2M364.35 786.61v9.2M358.43 778.95h9.2M363.03 774.35v9.2M353.15 781.9h9.2M357.75 777.3v9.2M365.35 787.41h9.2M369.95 782.81v9.2M368.23 791.41h9.2M372.83 786.81v9.2M371.74 786.67h9.2M376.34 782.07v9.2M369.56 786.75h9.2M374.16 782.15v9.2M358.22 787.48h9.2M362.82 782.88v9.2M362.04 783.35h9.2M366.64 778.75v9.2M373.76 787.31h9.2M378.36 782.71v9.2M358.78 783.9h9.2M363.38 779.3v9.2M375.88 783.22h9.2M380.48 778.62v9.2M366.19 786.73h9.2M370.79 782.13v9.2M350.07 786.03h9.2M354.67 781.43v9.2M353.13 784.5h9.2M357.73 779.9v9.2M354.87 783.56h9.2M359.47 778.96v9.2M367.98 782.71h9.2M372.58 778.11v9.2M362.19 781.5h9.2M366.79 776.9v9.2M369.02 785.62h9.2M373.62 781.02v9.2M368.63 784.81h9.2M373.23 780.21v9.2M351 786.48h9.2M355.6 781.88v9.2M358.06 781.69h9.2M362.66 777.09v9.2M364.8 791.7h9.2M369.4 787.1v9.2M369.39 788.93h9.2M373.99 784.33v9.2M368.67 787.26h9.2M373.27 782.66v9.2M363.65 781.37h9.2M368.25 776.77v9.2M353.98 782.88h9.2M358.58 778.28v9.2M369.18 783.82h9.2M373.78 779.22v9.2M350.11 786.16h9.2M354.71 781.56v9.2M354.15 782.43h9.2M358.75 777.83v9.2M364.28 793.01h9.2M368.88 788.41v9.2M369.15 788.99h9.2M373.75 784.39v9.2M350.65 787.2h9.2M355.25 782.6v9.2M366.49 784.01h9.2M371.09 779.41v9.2M369.46 788.38h9.2M374.06 783.78v9.2M360.65 793.7h9.2M365.25 789.1v9.2M352.03 790.43h9.2M356.63 785.83v9.2M355.51 794.35h9.2M360.11 789.75v9.2M349.21 789.92h9.2M353.81 785.32v9.2" stroke="#ffd700" stroke-width="1.15" fill="none"/></g>
<g><text x="176" y="16" textLength="87.42" lengthAdjust="spacingAndGlyphs" style="font-size:17px">Watershed</text><text x="437" y="17" textLength="188.8" lengthAdjust="spacingAndGlyphs" style="font-size:17px">Crescimento de Região</text><text x="578.5" y="158.5" textLength="63.32" lengthAdjust="spacingAndGlyphs" style="font-size:17px">LSCPM</text><text x="578" y="355" textLength="63.31" lengthAdjust="spacingAndGlyphs" style="font-size:17px">LSFCM</text><text x="640" y="363.5" textLength="44.95" lengthAdjust="spacingAndGlyphs" style="font-size:13.4px">parzen</text><text x="437" y="497.5" textLength="62.32" lengthAdjust="spacingAndGlyphs" style="font-size:17px">LSFCM</text><text x="499" y="506" textLength="26.45" lengthAdjust="spacingAndGlyphs" style="font-size:13.4px">evol</text><text x="148.5" y="504.5" textLength="40.4" lengthAdjust="spacingAndGlyphs" style="font-size:17px">FCM</text><text x="0" y="345" textLength="61.37" lengthAdjust="spacingAndGlyphs" style="font-size:17px">LSDRC</text><text x="60.5" y="352.5" textLength="45.37" lengthAdjust="spacingAndGlyphs" style="font-size:13.4px">parzen</text><text x="0" y="165.5" textLength="61.37" lengthAdjust="spacingAndGlyphs" style="font-size:17px">LSDRC</text><text x="60.5" y="173.5" textLength="27.91" lengthAdjust="spacingAndGlyphs" style="font-size:13.4px">evol</text><text x="185.5" y="620.5" textLength="84.86" lengthAdjust="spacingAndGlyphs" style="font-size:17px">Watershed</text><text x="437.5" y="621.5" textLength="179.92" lengthAdjust="spacingAndGlyphs" style="font-size:17px">Crescimento de Região</text><text x="572" y="758" textLength="61.83" lengthAdjust="spacingAndGlyphs" style="font-size:17px">LSCPM</text><text x="572" y="945.5" textLength="60.31" lengthAdjust="spacingAndGlyphs" style="font-size:17px">LSFCM</text><text x="631.5" y="953.5" textLength="43.4" lengthAdjust="spacingAndGlyphs" style="font-size:13.0px">parzen</text><text x="437" y="1083" textLength="58.82" lengthAdjust="spacingAndGlyphs" style="font-size:17px">LSFCM</text><text x="496.5" y="1089.5" textLength="25.42" lengthAdjust="spacingAndGlyphs" style="font-size:13.0px">evol</text><text x="162" y="1086" textLength="37.89" lengthAdjust="spacingAndGlyphs" style="font-size:17px">FCM</text><text x="17" y="764.5" textLength="60.41" lengthAdjust="spacingAndGlyphs" style="font-size:17px">LSDRC</text><text x="76.5" y="770.5" textLength="25.92" lengthAdjust="spacingAndGlyphs" style="font-size:13.0px">evol</text><text x="17" y="936" textLength="60.41" lengthAdjust="spacingAndGlyphs" style="font-size:17px">LSDRC</text><text x="76.5" y="944" textLength="43.47" lengthAdjust="spacingAndGlyphs" style="font-size:13.0px">parzen</text></g>
<text x="336" y="541.8" class="cap" textLength="35.2" lengthAdjust="spacingAndGlyphs" style="font-size:27.8px">(a)</text>
<text x="335.4" y="1120.9" class="cap" textLength="35.8" lengthAdjust="spacingAndGlyphs" style="font-size:27.8px">(b)</text>
</svg>
</body></html>
